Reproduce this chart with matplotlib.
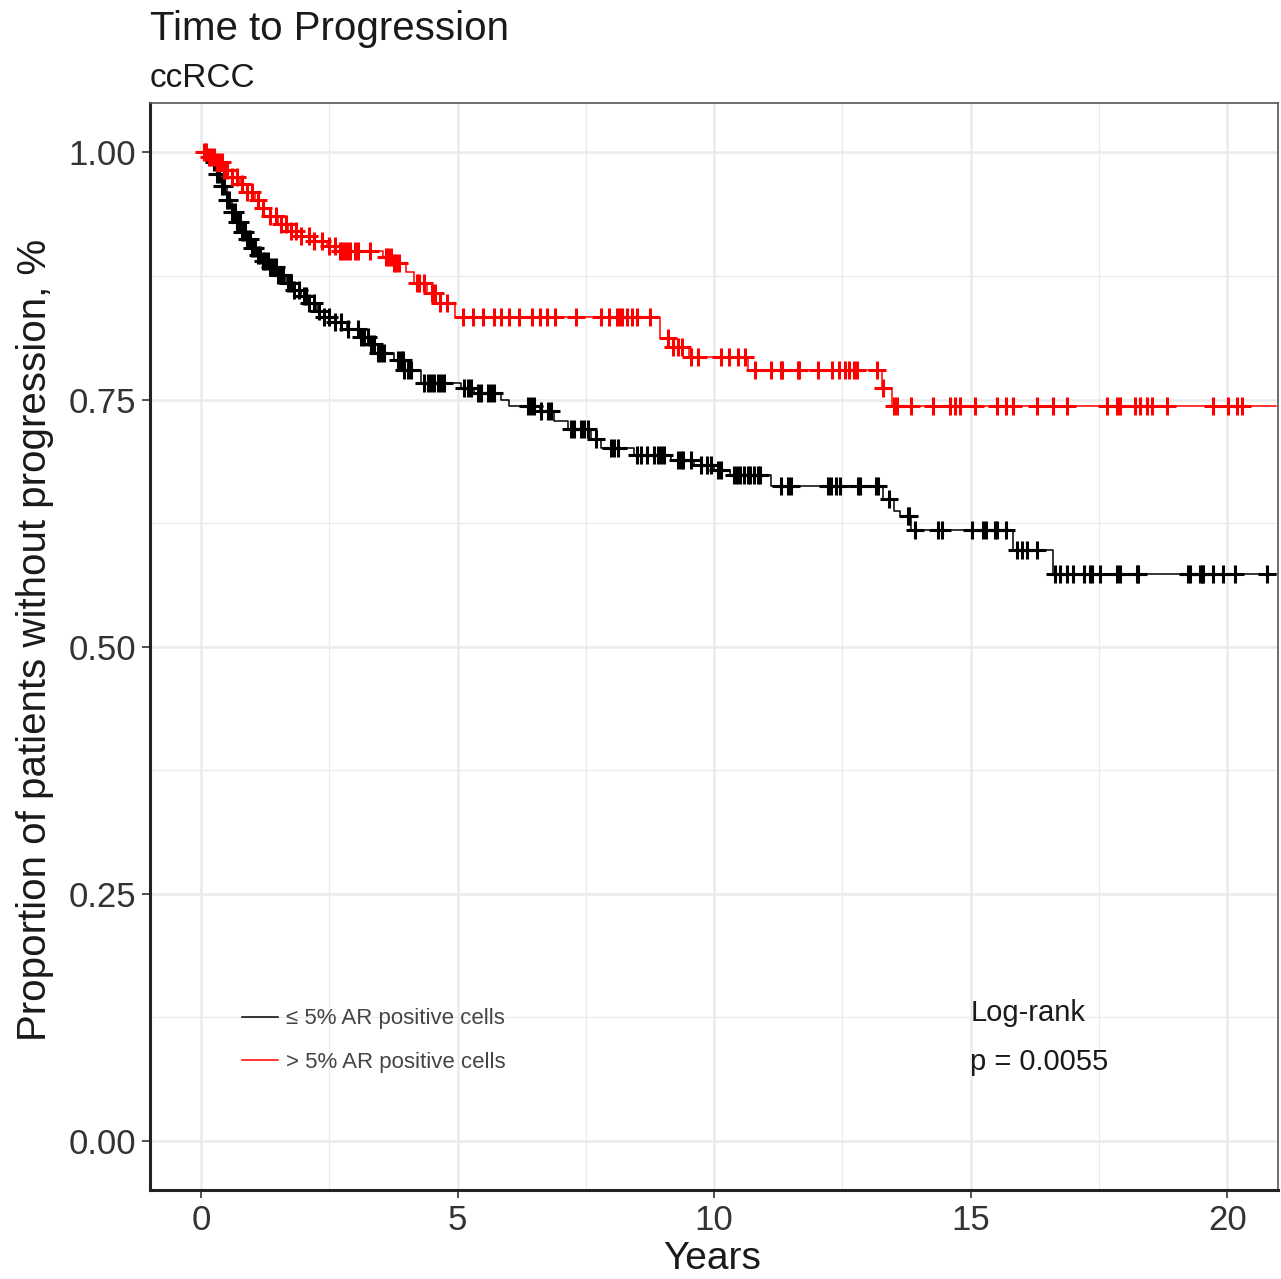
import numpy as np
import matplotlib.pyplot as plt
from matplotlib.lines import Line2D

plt.rcParams['font.family'] = ['Liberation Sans', 'DejaVu Sans']

# black group: <= 5% AR positive cells
low_times = [0.0, 0.2, 0.3, 0.4, 0.5, 0.6, 0.7, 0.8, 0.9, 1.0, 1.1, 1.2, 1.35, 1.5,
             1.65, 1.8, 1.95, 2.1, 2.25, 2.4, 2.6, 2.85, 3.1, 3.3, 3.45, 3.75, 3.95,
             4.28, 5.06, 5.32, 5.84, 6.0, 6.6, 6.87, 7.15, 7.6, 7.79, 8.43, 9.15,
             9.6, 10.0, 10.3, 11.1, 13.3, 13.5, 13.63, 13.83, 15.83, 16.61, 20.95]
low_surv = [1.0, 0.99, 0.978, 0.966, 0.952, 0.94, 0.93, 0.92, 0.912, 0.903, 0.896,
            0.89, 0.884, 0.876, 0.868, 0.861, 0.855, 0.848, 0.84, 0.834, 0.828, 0.821,
            0.813, 0.806, 0.797, 0.79, 0.78, 0.767, 0.762, 0.757, 0.75, 0.743, 0.738,
            0.728, 0.72, 0.71, 0.701, 0.694, 0.689, 0.684, 0.679, 0.674, 0.662, 0.649,
            0.637, 0.632, 0.618, 0.598, 0.573, 0.573]
low_censor = [0.25, 0.3, 0.35, 0.4, 0.45, 0.5, 0.55, 0.6, 0.65, 0.7, 0.75, 0.8, 0.85,
              0.9, 0.95, 1.0, 1.05, 1.1, 1.15, 1.2, 1.25, 1.3, 1.35, 1.4, 1.45, 1.5,
              1.55, 1.6, 1.7, 1.75, 1.8, 1.9, 2.0, 2.05, 2.1, 2.2, 2.3, 2.4, 2.5, 2.6,
              2.73, 2.86, 3.06, 3.12, 3.17, 3.25, 3.31, 3.37, 3.45, 3.5, 3.56, 3.84,
              3.9, 3.93, 3.95, 4.03, 4.09, 4.34, 4.42, 4.48, 4.54, 4.62, 4.67, 4.73,
              5.12, 5.2, 5.26, 5.39, 5.45, 5.59, 5.65, 5.7, 6.37, 6.43, 6.48, 6.62,
              6.76, 6.82, 7.2, 7.26, 7.4, 7.46, 7.54, 7.69, 7.98, 8.04, 8.12, 8.5,
              8.57, 8.7, 8.82, 8.9, 8.96, 9.02, 9.29, 9.35, 9.4, 9.54, 9.74, 9.87,
              9.93, 10.07, 10.13, 10.38, 10.45, 10.5, 10.58, 10.65, 10.7, 10.78, 10.85,
              10.9, 11.3, 11.43, 11.49, 12.21, 12.27, 12.37, 12.46, 12.8, 12.85, 13.15,
              13.2, 13.4, 13.77, 13.8, 13.92, 14.37, 14.45, 15.03, 15.25, 15.29, 15.48,
              15.52, 15.68, 15.91, 16.0, 16.1, 16.3, 16.65, 16.75, 16.88, 17.0, 17.2,
              17.33, 17.37, 17.53, 17.86, 17.92, 18.25, 18.27, 19.24, 19.28, 19.47,
              19.51, 19.53, 19.73, 19.92, 20.16, 20.78]

# red group: > 5% AR positive cells
high_times = [0.0, 0.15, 0.3, 0.45, 0.6, 0.75, 0.9, 1.05, 1.2, 1.35, 1.5, 1.7, 1.95,
              2.2, 2.45, 2.7, 3.55, 3.75, 4.0, 4.15, 4.4, 4.65, 4.95, 8.95, 9.2, 9.5,
              10.65, 13.28, 13.47, 20.95]
high_surv = [1.0, 0.995, 0.99, 0.982, 0.975, 0.968, 0.96, 0.952, 0.944, 0.936, 0.928,
             0.921, 0.915, 0.91, 0.905, 0.9, 0.894, 0.888, 0.879, 0.868, 0.858, 0.848,
             0.834, 0.812, 0.803, 0.793, 0.78, 0.762, 0.743, 0.743]
high_censor = [0.05, 0.1, 0.15, 0.2, 0.25, 0.3, 0.35, 0.4, 0.45, 0.5, 0.6, 0.7, 0.8,
               0.9, 1.0, 1.1, 1.2, 1.35, 1.45, 1.55, 1.65, 1.75, 1.85, 1.95, 2.1, 2.2,
               2.35, 2.5, 2.6, 2.7, 2.75, 2.8, 2.85, 2.9, 3.0, 3.05, 3.3, 3.6, 3.65,
               3.7, 3.75, 3.8, 3.85, 4.2, 4.25, 4.35, 4.5, 4.55, 4.65, 4.8, 5.1, 5.3,
               5.5, 5.7, 5.85, 6.0, 6.2, 6.45, 6.6, 6.75, 6.9, 7.3, 7.8, 7.95, 8.1,
               8.15, 8.2, 8.3, 8.4, 8.5, 8.75, 9.1, 9.2, 9.3, 9.37, 9.55, 9.68, 10.13,
               10.28, 10.46, 10.6, 10.8, 11.1, 11.3, 11.33, 11.63, 11.65, 12.03, 12.3,
               12.43, 12.56, 12.62, 12.72, 12.79, 13.18, 13.3, 13.5, 13.57, 13.83,
               14.27, 14.6, 14.7, 14.8, 15.09, 15.52, 15.68, 15.83, 16.3, 16.61, 16.88,
               17.66, 17.86, 17.92, 18.2, 18.3, 18.44, 18.54, 18.83, 19.73, 20.02,
               20.19, 20.29]

labels = ['\u2264 5% AR positive cells', '> 5% AR positive cells']
colors = ['black', 'red']
x_ticks = [0, 5, 10, 15, 20]
y_ticks = [0.0, 0.25, 0.5, 0.75, 1.0]
y_ticklabels = ['0.00', '0.25', '0.50', '0.75', '1.00']


def surv_at(times, surv, t):
    idx = np.searchsorted(times, t, side='right') - 1
    return np.asarray(surv)[idx]


fig = plt.figure(figsize=(12.81, 12.79), dpi=100)
ax = fig.add_axes([0.117, 0.0696, 0.881, 0.8498])

groups = [(low_times, low_surv, low_censor), (high_times, high_surv, high_censor)]
for (times, surv, cens), col in zip(groups, colors):
    ax.step(times, surv, where='post', color=col, lw=1.1, zorder=3)
    ax.plot(cens, surv_at(times, surv, cens), ls='none', marker='+', ms=13,
            mew=2.2, color=col, zorder=4)

ax.set_xlim(-1.0, 21.0)
ax.set_ylim(-0.05, 1.05)
ax.set_xticks(x_ticks)
ax.set_xticklabels([str(v) for v in x_ticks])
ax.set_yticks(y_ticks)
ax.set_yticklabels(y_ticklabels)
ax.set_xticks([2.5, 7.5, 12.5, 17.5], minor=True)
ax.set_yticks([0.125, 0.375, 0.625, 0.875], minor=True)
ax.grid(which='major', color='#EBEBEB', lw=1.8, zorder=0)
ax.grid(which='minor', color='#EBEBEB', lw=0.9, zorder=0)
ax.set_axisbelow(True)
ax.tick_params(which='major', labelsize=25, length=6, width=1.2, color='#333333',
               labelcolor='#333333', pad=4)
ax.tick_params(which='minor', length=0)
for side in ['left', 'bottom']:
    ax.spines[side].set_linewidth(2.2)
    ax.spines[side].set_color('#222222')
for side in ['top', 'right']:
    ax.spines[side].set_linewidth(1.2)
    ax.spines[side].set_color('#555555')

handles = [Line2D([], [], color=c, lw=1.1) for c in colors]
ax.legend(handles, labels, loc='upper left', bbox_to_anchor=(0.0816, 0.167),
          frameon=False, fontsize=16, handlelength=1.6, handletextpad=0.4,
          labelspacing=1.0, borderpad=0, borderaxespad=0, labelcolor='#444444')

ax.text(0.727, 0.163, 'Log-rank', transform=ax.transAxes, fontsize=21,
        va='center', ha='left', color='#1a1a1a')
ax.text(0.727, 0.118, 'p = 0.0055', transform=ax.transAxes, fontsize=21,
        va='center', ha='left', color='#1a1a1a')

fig.text(0.117, 0.977, 'Time to Progression', fontsize=29, va='center', ha='left',
         color='#1a1a1a')
fig.text(0.117, 0.939, 'ccRCC', fontsize=24, va='center', ha='left', color='#1a1a1a')
fig.text(0.556, 0.0155, 'Years', fontsize=28, va='center', ha='center', color='#1a1a1a')
fig.text(0.027, 0.5, 'Proportion of patients without progression, %', fontsize=29,
         rotation=90, va='center', ha='center', color='#1a1a1a')

fig.savefig('out.png', dpi=100)
